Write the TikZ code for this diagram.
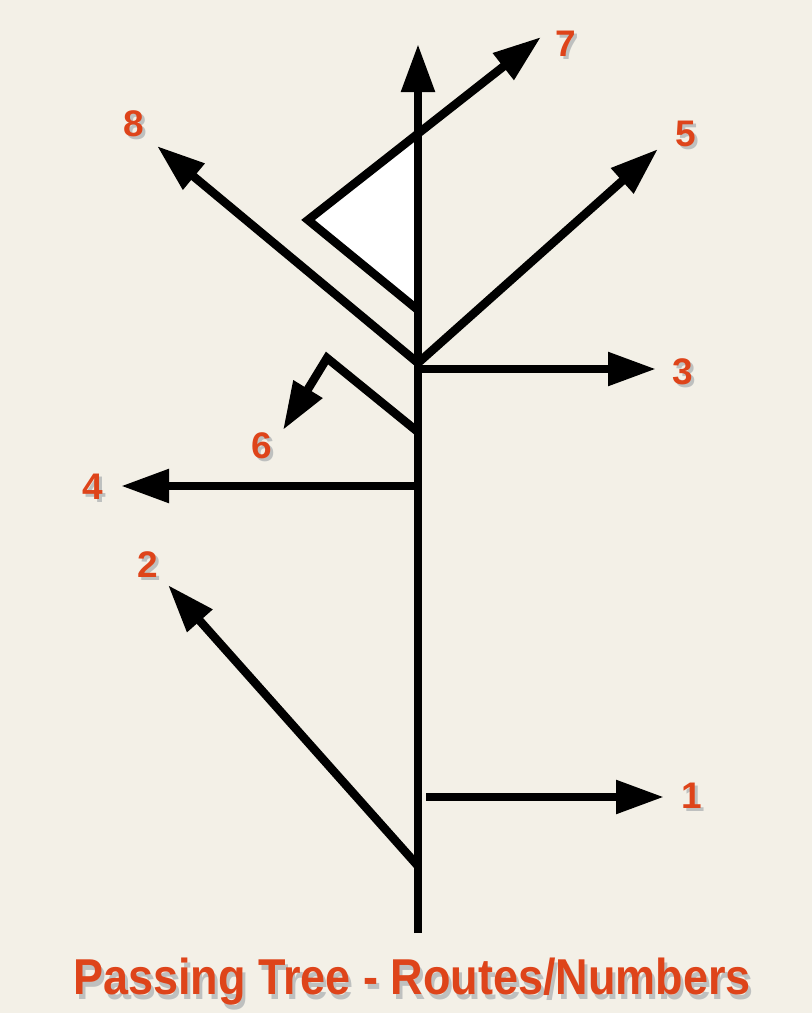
\documentclass[tikz,border=0pt]{standalone}
\usepackage{fontspec}
\setmainfont{Liberation Sans}
\usetikzlibrary{arrows.meta}
\definecolor{bg}{HTML}{F3F0E7}
\definecolor{lab}{HTML}{DE441A}
\definecolor{shd}{HTML}{7E8790}
\tikzset{
 route/.style={line width=8.5pt, line join=miter, -{Triangle[length=48pt,width=32pt]}},
 num/.style={font=\bfseries\fontsize{37}{37}\selectfont, text=lab, inner sep=0pt},
 numshadow/.style={font=\bfseries\fontsize{37}{37}\selectfont, text=shd, opacity=0.45, inner sep=0pt},
 ttl/.style={font=\bfseries\fontsize{45}{45}\selectfont, text=lab, inner sep=0pt, yscale=1.12},
 ttlshadow/.style={font=\bfseries\fontsize{45}{45}\selectfont, text=shd, opacity=0.45, inner sep=0pt, yscale=1.12},
}
\newcommand\numlabel[3]{%
  \node[numshadow, xshift=3pt, yshift=-3pt] at (#2) {#3};
  \node[num] (#1) at (#2) {#3};}
\begin{document}
\begin{tikzpicture}[x=1pt,y=-1pt]
\fill[bg] (0,0) rectangle (812,1013);
\useasboundingbox (0,0) rectangle (812,1013);
% coordinates
\coordinate (base) at (418,933);
\coordinate (top) at (418,44);
\coordinate (j2) at (418,866);
\coordinate (t2) at (168,585);
\coordinate (s1) at (426,797);
\coordinate (t1) at (664,797);
\coordinate (j4) at (418,486);
\coordinate (t4) at (121,486);
\coordinate (j6) at (418,432);
\coordinate (k6) at (327,358);
\coordinate (t6) at (283,430);
\coordinate (j85) at (418,363);
\coordinate (t8) at (157,146);
\coordinate (t5) at (658,149);
\coordinate (j3) at (418,369);
\coordinate (t3) at (656,369);
\coordinate (tv) at (308,220);
\coordinate (tlow) at (418,310);
\coordinate (tup) at (418,134);
\coordinate (t7) at (541,37);
% white triangle
\fill[white] (tv) -- (tup) -- (tlow) -- cycle;
% routes
\draw[route] (base) -- (top);
\draw[route] (s1) -- (t1);
\draw[route] (j2) -- (t2);
\draw[route] (j4) -- (t4);
\draw[route] (j6) -- (k6) -- (t6);
\draw[route] (j3) -- (t3);
\draw[route] (j85) -- (t5);
\draw[route] (j85) -- (t8);
\draw[route] (tlow) -- (tv) -- (t7);
% labels
\numlabel{n1}{692,796}{1}
\numlabel{n2}{148,565}{2}
\numlabel{n3}{683,372}{3}
\numlabel{n4}{93,487}{4}
\numlabel{n5}{686,134}{5}
\numlabel{n6}{262,446}{6}
\numlabel{n7}{566,44}{7}
\numlabel{n8}{134,124}{8}
\node[ttlshadow, xshift=3pt, yshift=-4pt] at (412,982) {Passing Tree - Routes/Numbers};
\node[ttl] (title) at (412,982) {Passing Tree - Routes/Numbers};
\end{tikzpicture}
\end{document}
